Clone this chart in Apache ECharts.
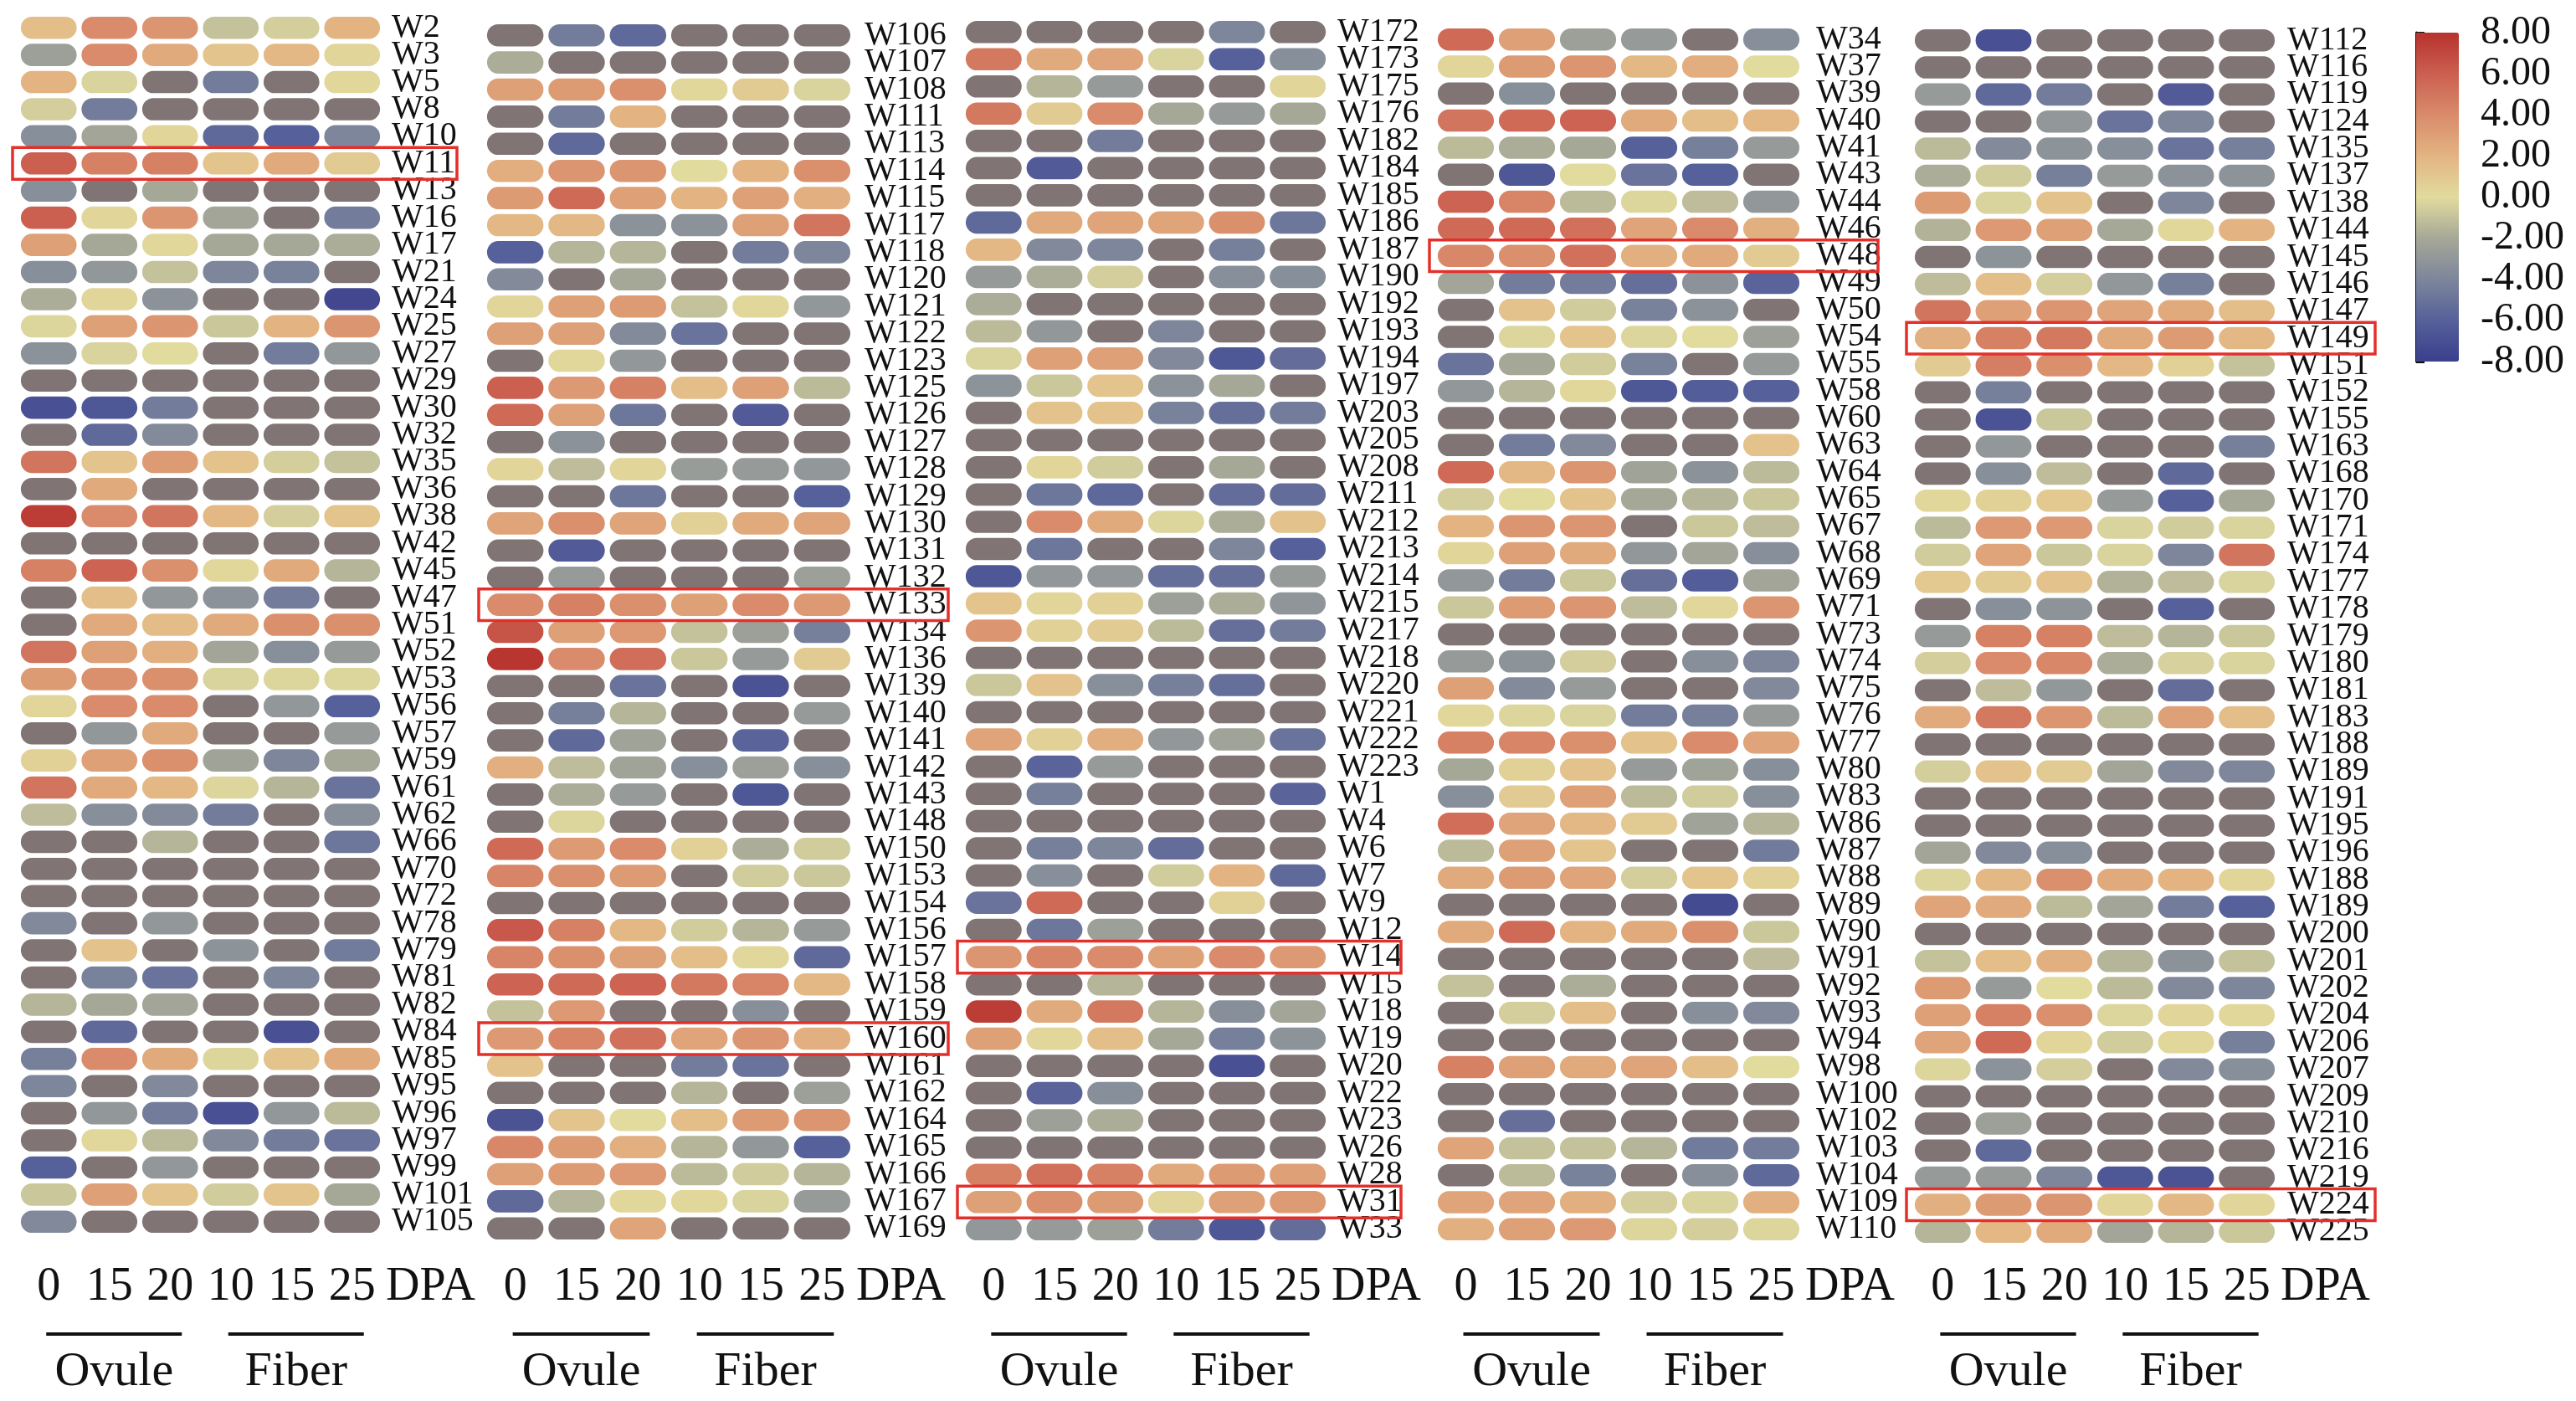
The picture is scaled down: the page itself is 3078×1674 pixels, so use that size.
<!DOCTYPE html>
<html><head><meta charset="utf-8">
<script src="https://cdn.jsdelivr.net/npm/echarts@6/dist/echarts.min.js"></script>
<style>html,body{margin:0;padding:0;background:#fff;overflow:hidden}#c{width:3078px;height:1674px}</style>
</head><body><div id="c"></div>
<script>
// ---------------- DATA ----------------
const stageLabels = ['0', '15', '20', '10', '15', '25'];
const tissueLabels = ['Ovule', 'Fiber'];
const unitLabel = 'DPA';
const scaleMin = -8, scaleMax = 8, scaleStep = 2;

const panel1Rows = ['W2','W3','W5','W8','W10','W11','W13','W16','W17','W21','W24','W25','W27','W29','W30','W32','W35','W36','W38','W42','W45','W47','W51','W52','W53','W56','W57','W59','W61','W62','W66','W70','W72','W78','W79','W81','W82','W84','W85','W95','W96','W97','W99','W101','W105'];
const panel1Values = [
[1.5,4,3.5,-1,-0.5,2],[-2.5,4,2.5,1.2,1.8,0.3],[2,-0.3,null,-4.5,null,0.2],[-0.5,-4.5,null,null,null,null],
[-3.5,-2.2,0.3,-5.5,-6,-4],[6,4.5,4.5,1.2,2.5,0.8],[-3.5,null,-2,null,null,null],[6,0.3,3.5,-2.2,null,-4.5],
[3,-2,0.2,-2,-2,-1.8],[-3.5,-3,-1,-4,-4.2,null],[-1.8,0.3,-3.3,null,null,-7.5],[-0.2,3,3.5,-0.8,2,3.5],
[-3.3,-0.3,0,null,-4.5,-3],[null,null,null,null,null,null],[-7,-6.5,-4.5,null,null,null],[null,-5.5,-3.7,null,null,null],
[5,1.2,3.2,1.3,-0.5,-1],[null,2.5,null,null,null,null],[7.5,4,5,1.8,-0.5,1.2],[null,null,null,null,null,null],
[4.5,5.8,3.8,0.2,2.5,-1.5],[null,1.5,-3,-3.3,-4.5,null],[null,2.5,1.6,2.5,3.8,3.8],[5,3,2.2,-2.2,-3.5,-2.8],
[3.2,3.8,3.8,-0.3,-0.2,-0.2],[0.3,4,4,null,-3,-6],[null,-3,2.5,null,null,-2.8],[0.5,3,3.8,-2.3,-4,-2],
[5,2.5,1.8,-0.2,-1.5,-5],[-1.2,-3.5,-3.7,-4.5,null,-3.5],[null,null,-1.5,null,null,-4.8],[null,null,null,null,null,null],
[null,null,null,null,null,null],[-3.8,null,-3,null,null,null],[null,1.3,null,-3.2,null,-4.6],[null,-4.2,-5,null,-4,null],
[-1.5,-2,-2.2,null,null,null],[null,-5.5,null,null,-7,null],[-4.3,4,2.5,-0.2,1.2,2.5],[-4,null,-3.8,null,null,null],
[null,-3,-4.5,-7,-3,-1.3],[null,0.2,-1.3,-3.8,-4.5,-5],[-6,null,-3,null,null,null],[-0.8,3,1.2,-0.6,1.2,-2],
[-3.8,null,null,null,null,null]
];

const panel2Rows = ['W106','W107','W108','W111','W113','W114','W115','W117','W118','W120','W121','W122','W123','W125','W126','W127','W128','W129','W130','W131','W132','W133','W134','W136','W139','W140','W141','W142','W143','W148','W150','W153','W154','W156','W157','W158','W159','W160','W161','W162','W164','W165','W166','W167','W169'];
const panel2Values = [
[null,-4.5,-5.5,null,null,null],[-1.8,null,null,null,null,null],[3,3.2,3.8,0.2,0.8,-0.3],[null,-4.5,2,null,null,null],
[null,-5.5,null,null,null,null],[2.3,3.5,3.5,0,2,3.8],[3.2,5.5,3,2,3,2.2],[1.8,1.8,-3.3,-3.3,3,5],
[-6,-1.5,-1.5,null,-4.5,-4],[-3.7,null,-2,null,null,null],[0.3,3,3.2,-1,0.2,-3],[3,3,-3.7,-5,null,null],
[null,0.2,-3,null,null,null],[6,3.3,4.5,1.5,3,-1.3],[5.5,3,-4.8,null,-6.3,null],[null,-3.3,null,null,null,null],
[0.3,-1.2,0.3,-2.7,-2.8,-3],[null,null,-4.8,null,null,-6],[2.8,3.8,2.8,0.5,2.5,2.8],[null,-6.3,null,null,null,null],
[null,-2.8,null,null,null,-2.5],[4,4.5,3.8,3,4,3.3],[6.5,3,3.3,-1,-2.5,-4.3],[7.8,4,5.3,-0.8,-2.8,0.8],
[null,null,-5,null,-6.8,null],[null,-4.3,-1.5,null,null,-2.8],[null,-5.5,-2.3,null,-5.8,null],[2.2,-1.2,-2.3,-3.5,-2.5,-3.5],
[null,-1.8,-2.8,null,-6.5,null],[null,-0.2,null,null,null,null],[5.5,3.2,4,0.5,-1.8,-0.6],[4.3,3.8,3.2,null,-0.6,-0.8],
[null,null,null,null,null,null],[6.3,4.5,1.8,-0.6,-1.5,-2.8],[4.3,3.8,3,1.5,0.2,-5.5],[5.8,5.5,5.8,4.8,4.3,1.8],
[-1,3.3,null,null,-3.5,null],[3.3,4.3,5.2,2.8,3.5,2.2],[1.3,null,null,-4.5,-5,null],[null,null,null,-1.5,null,-2.5],
[-6.8,1.2,0,1.5,3.2,3.5],[4.2,3.2,2.2,-1.5,-3,-6],[3,3.2,3.3,-1.3,-0.6,-1.5],[-5.5,-1.5,0.2,0.2,-0.3,-2.8],
[null,null,2.8,null,null,null]
];

const panel3Rows = ['W172','W173','W175','W176','W182','W184','W185','W186','W187','W190','W192','W193','W194','W197','W203','W205','W208','W211','W212','W213','W214','W215','W217','W218','W220','W221','W222','W223','W1','W4','W6','W7','W9','W12','W14','W15','W18','W19','W20','W22','W23','W26','W28','W31','W33'];
const panel3Values = [
[null,null,null,null,-4,null],[4.8,2.5,2.8,-0.3,-6,-3.5],[null,-1.5,-2.8,null,null,0.3],[4.8,0.8,4,-2,-2.8,-2],
[null,null,-4.5,null,null,null],[null,-6.3,null,null,null,null],[null,null,null,null,null,null],[-5.5,2.5,2.8,2.8,3.8,-4.8],
[1.8,-3.8,-4,null,-4.3,null],[-2.8,-1.8,-0.5,null,-3.5,-3.5],[-1.8,null,null,null,null,null],[-1.3,-3,null,-4,null,null],
[-0.3,3,3,-3.8,-6.5,-5.3],[-3.2,-0.8,1.2,-3.3,-2,null],[null,1.3,1.3,-4.2,-5.2,-4.5],[null,null,null,null,null,null],
[null,0.3,-0.6,null,-2,null],[null,-4.8,-5.6,null,-5.3,-5.3],[null,4,2.5,-0.2,-1.8,1.3],[null,-4.8,null,null,-4,-6],
[-6.5,-3,-3,-5.2,-5.2,-2.8],[1.2,0.3,0.5,-2.5,-1.8,-3.1],[3.5,0.5,0.8,-1.3,-5.2,-4.5],[null,null,null,null,null,null],
[-0.8,1.3,-3.5,-4.3,-5.2,null],[null,null,null,null,null,null],[2.8,0.5,2.3,-3,-2.3,-5],[null,-5.8,-2.8,null,null,null],
[null,-4.3,null,null,null,-5.8],[null,null,null,null,null,null],[null,-4.3,-4,-5.3,null,null],[null,-3.5,null,-0.6,2,-5.5],
[-5,5.5,null,null,0.5,null],[null,-4.8,-2.5,null,null,null],[3.5,4.3,4,3,4,3.3],[null,null,-1.5,null,null,null],
[7.5,2.5,4.8,-1.5,-3.5,-2.2],[3,0.2,1.5,-2,-4.3,-3.2],[null,null,null,null,-7,null],[null,-5.8,-3.5,null,null,null],
[null,-2.5,-1.8,null,null,null],[null,null,null,null,null,null],[4.5,5.2,4.5,2.5,3.2,3],[3,3.8,3.2,0.3,3,3.2],
[-3,-2.8,-2.5,-4.5,-6.5,-5.3]
];

const panel4Rows = ['W34','W37','W39','W40','W41','W43','W44','W46','W48','W49','W50','W54','W55','W58','W60','W63','W64','W65','W67','W68','W69','W71','W73','W74','W75','W76','W77','W80','W83','W86','W87','W88','W89','W90','W91','W92','W93','W94','W98','W100','W102','W103','W104','W109','W110'];
const panel4Values = [
[5.5,3,-2.5,-2.8,null,-3.5],[0.3,3.2,3.5,1.8,2.3,0],[null,-3.5,null,null,null,null],[5,5.5,5.8,2.5,1.5,1.8],
[-1.3,-1.8,-2,-6,-4.3,-2.8],[null,-6.5,0,-5,-6,null],[5.8,4.3,-1.3,-0.2,-1.2,-3],[5.5,5.5,5.2,2.8,4,2.2],
[4.2,3.8,5.2,2.2,2.5,0.8],[-2.2,-4.5,-4.5,-5.2,-3.3,-5.8],[null,1.3,-0.6,-4.2,-3.3,null],[null,-0.2,1.2,-0.2,0,-2.5],
[-5,-2,-0.6,-4.2,null,-2.8],[-3,-1.5,0.2,-6.5,-6.2,-6],[null,null,null,null,null,null],[null,-4.5,-3.8,null,null,1.3],
[5.5,1.8,3.5,-2.3,-3.3,-1.3],[-0.5,0,1.3,-2,-1.5,-0.8],[2,3.5,3.5,null,-0.8,-1.2],[0.3,3,2.5,-3,-2.2,-3.5],
[-3,-4.5,-0.8,-5.2,-6.2,-2.2],[-0.8,3.2,3.5,-1.2,0.2,3.5],[null,null,null,null,null,null],[-2.8,-3.2,-0.5,null,-3.5,-4],
[3,-3.7,-2.8,null,null,-3.8],[0.2,-0.2,-0.3,-4.5,-4.3,-2.8],[4.5,4.3,3.8,1.3,4,2.8],[-2,0.5,1.3,-2.8,-2.3,-3.5],
[-3.5,0.8,3,-1.3,-0.6,-3.5],[5.3,2.8,1.8,0.8,-2.3,-1.5],[-1.3,3,1.2,null,null,-4.6],[2.5,3.2,2.8,-0.5,1.2,0.5],
[null,null,null,null,-7.3,null],[2.5,5.5,2,2.5,3.8,-0.8],[null,null,null,null,null,-1.2],[-1,null,-1.8,null,null,null],
[null,-0.5,1.5,null,-3.5,-3.8],[null,null,null,null,null,null],[4.5,3,2.5,2.8,1.5,0],[null,null,null,null,null,null],
[null,-5.2,null,null,null,null],[2.8,-1,-1,-1.5,-4.6,-4.5],[null,-1.3,-4.2,null,-3.5,-5.5],[2.8,2.8,2.2,-0.5,-0.3,2.2],
[2.2,3,3.3,-0.2,-0.5,-0.2]
];

const panel5Rows = ['W112','W116','W119','W124','W135','W137','W138','W144','W145','W146','W147','W149','W151','W152','W155','W163','W168','W170','W171','W174','W177','W178','W179','W180','W181','W183','W188','W189','W191','W195','W196','W188','W189','W200','W201','W202','W204','W206','W207','W209','W210','W216','W219','W224','W225'];
const panel5Values = [
[null,-7,null,null,null,null],[null,null,null,null,null,null],[-2.8,-5.5,-4.5,null,-6.3,null],[null,null,-3,-5,-4,null],
[-1.3,-3.7,-3.2,-3.5,-5,-4.3],[-1.8,-0.6,-4.3,-2.8,-3.3,-3.2],[3.2,-0.3,1.3,null,-4,null],[-1.6,3.3,3,-2,0.2,2],
[null,-3.2,null,null,null,null],[-1.2,1.5,-0.5,-3,-4.3,null],[5,3,3.5,2.8,2.5,1.5],[2.2,4.5,4.8,2.5,3.2,1.8],
[0.8,4.6,3.8,1.8,0.5,-1],[null,-4.3,null,null,null,null],[null,-6.8,-0.8,null,null,null],[null,-3,null,null,null,-4.3],
[null,-3.5,-1.2,null,-5.5,null],[0.2,0.5,1,-2.8,-6,-2],[-1.3,3.3,3.3,-0.3,-0.6,-0.3],[-0.6,2.8,-0.8,-0.3,-4,5],
[1,0.8,1.3,-1.6,-1.2,-0.3],[null,-3.5,-3.2,null,-6,null],[-2.8,4.5,4.5,-1.2,-1.5,-0.8],[-0.5,4,4.2,-1.8,-0.4,-0.3],
[null,-1.2,-3,null,-5.3,null],[2.5,4.8,3.5,-1.3,3,1.5],[null,null,null,null,null,null],[-0.5,1.3,0.8,-2.2,-3.8,-4],
[null,null,null,null,null,null],[null,null,null,null,null,null],[-2.2,-3.8,-3.5,null,null,null],[-0.2,1.8,3.8,2.5,2,0.3],
[2.8,2.5,-1.3,-2.2,-4.5,-6],[null,null,null,null,null,null],[-1,1.5,2.2,-1.5,-3.3,-1],[3.2,-2.8,0,-1.3,-3.8,-4],
[3,4.5,3.8,-0.2,0.3,0.2],[2.8,5.5,0.3,-0.6,0.2,-4.3],[-0.2,-3.3,-0.5,null,-3.8,-3.5],[null,null,null,null,null,null],
[null,-2.5,null,null,null,null],[null,-5.5,null,null,null,null],[-2.8,-2.8,-4,-6.5,-6.8,null],[2.2,3.2,3.5,0.3,1.8,0.3],
[-1.5,1.8,2.5,-2.2,-1.5,-0.8]
];

const highlightRows = [[5], [21, 37], [34, 43], [8], [11, 43]]; // W11 | W133, W160 | W14, W31 | W48 | W149, W224

// ---------------- STYLE / LAYOUT ----------------
const scaleColors = ['#3b3f8c','#56609a','#7d869b','#a6a897','#e2db9e','#e3b482','#d98b6b','#cb5f50','#b7322d'];
const missingColor = '#807474';
const FONT = "'Liberation Serif','Times New Roman',serif";
const panels = [
  {rows: panel1Rows, values: panel1Values, left: 22,   top: 17, width: 435, height: 1459, labelMargin: 11, boxExt: 89},
  {rows: panel2Rows, values: panel2Values, left: 579,  top: 26, width: 440, height: 1458, labelMargin: 14, boxExt: 114},
  {rows: panel3Rows, values: panel3Values, left: 1151, top: 22, width: 436, height: 1463, labelMargin: 11, boxExt: 87},
  {rows: panel4Rows, values: panel4Values, left: 1715, top: 31, width: 438, height: 1454, labelMargin: 17, boxExt: 91},
  {rows: panel5Rows, values: panel5Values, left: 2285, top: 32, width: 436, height: 1456, labelMargin: 12, boxExt: 117}
];
const stageY = 1510, lineY = 1594, tissueY = 1640;

function pillRender(params, api) {
  const c = api.coord([api.value(0), api.value(1)]);
  const s = api.size([1, 1]);
  const w = s[0] * 0.92, h = s[1] * 0.82;
  return {type: 'rect', shape: {x: c[0] - w / 2, y: c[1] - h / 2, width: w, height: h, r: h / 2},
          style: {fill: api.visual('color')}};
}
function boxRender(ext) {
  return function (params, api) {
    const cs = params.coordSys;
    const c = api.coord([0, api.value(1)]);
    const s = api.size([1, 1]);
    const h = s[1] * 1.17;
    return {type: 'rect', shape: {x: cs.x - 7, y: c[1] - h / 2, width: cs.width + 7 + ext, height: h},
            style: {fill: 'none', stroke: '#e3302b', lineWidth: 3.5}};
  };
}

const grid = [], xAxis = [], yAxis = [], series = [], graphic = [], valueSeriesIdx = [];
panels.forEach((p, i) => {
  grid.push({left: p.left, top: p.top, width: p.width, height: p.height});
  xAxis.push({type: 'category', gridIndex: i, data: stageLabels, position: 'bottom',
    axisLine: {show: false}, axisTick: {show: false}, splitLine: {show: false},
    axisLabel: {interval: 0, margin: stageY - (p.top + p.height), fontSize: 56, fontFamily: FONT, color: '#111'}});
  yAxis.push({type: 'category', gridIndex: i, data: p.rows, inverse: true, position: 'right',
    axisLine: {show: false}, axisTick: {show: false}, splitLine: {show: false},
    axisLabel: {interval: 0, margin: p.labelMargin, fontSize: 40, fontFamily: FONT, color: '#111', padding: [8, 0, 0, 0]}});
  const vals = [], miss = [];
  p.values.forEach((row, r) => row.forEach((v, c) => {
    if (v === null) miss.push([c, r]); else vals.push([c, r, v]);
  }));
  valueSeriesIdx.push(series.length);
  series.push({type: 'custom', xAxisIndex: i, yAxisIndex: i, data: vals, encode: {x: 0, y: 1},
    renderItem: pillRender, silent: true});
  series.push({type: 'custom', xAxisIndex: i, yAxisIndex: i, data: miss, encode: {x: 0, y: 1},
    itemStyle: {color: missingColor}, renderItem: pillRender, silent: true});
  series.push({type: 'custom', xAxisIndex: i, yAxisIndex: i, z: 5,
    data: highlightRows[i].map(r => [0, r]), encode: {x: 0, y: 1},
    renderItem: boxRender(p.boxExt), silent: true});
  // DPA label, group underlines, tissue labels
  const pitch = p.width / 6;
  graphic.push({type: 'text', left: p.left + p.width + 4, top: stageY,
    style: {text: unitLabel, fontSize: 56, fontFamily: FONT, fill: '#111'}});
  tissueLabels.forEach((t, g) => {
    const x1 = p.left + pitch * (g * 3 + 0.5) - 3;
    const x2 = p.left + pitch * (g * 3 + 2.5) + 14;
    graphic.push({type: 'line', shape: {x1: x1, y1: lineY, x2: x2, y2: lineY}, style: {stroke: '#111', lineWidth: 4}});
    graphic.push({type: 'text', x: (x1 + x2) / 2, y: tissueY,
      style: {text: t, fontSize: 58, fontFamily: FONT, fill: '#111', align: 'center', verticalAlign: 'middle'}});
  });
});

// colour bar axis
grid.push({left: 2887, top: 39, width: 51, height: 393});
xAxis.push({type: 'value', gridIndex: 5, show: false, min: 0, max: 1});
yAxis.push({type: 'value', gridIndex: 5, min: scaleMin, max: scaleMax, interval: scaleStep, position: 'right',
  axisLine: {show: true, lineStyle: {color: '#111', width: 3}},
  axisTick: {show: true, inside: false, length: 10, lineStyle: {color: '#111', width: 3}},
  splitLine: {show: false},
  axisLabel: {formatter: v => v.toFixed(2), fontSize: 48, fontFamily: FONT, color: '#111', margin: 26, padding: [0, 0, 22, 0]}});

const chart = echarts.init(document.getElementById('c'), null, {renderer: 'canvas'});
chart.setOption({
  animation: false,
  backgroundColor: '#ffffff',
  grid, xAxis, yAxis, series, graphic,
  visualMap: {type: 'continuous', min: scaleMin, max: scaleMax, dimension: 2, seriesIndex: valueSeriesIdx,
    calculable: false, orient: 'vertical', left: 2887, top: 39, itemWidth: 51, itemHeight: 393, padding: 0,
    inRange: {color: scaleColors}, hoverLink: false}
});
</script></body></html>
